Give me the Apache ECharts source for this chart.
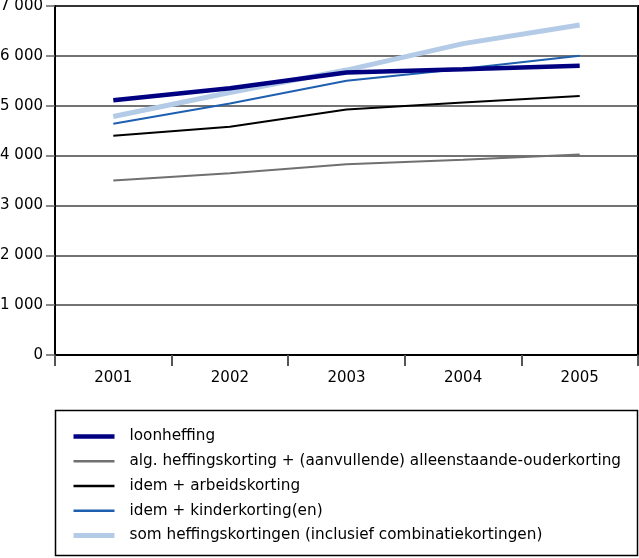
<!DOCTYPE html>
<html><head><meta charset="utf-8">
<script src="https://cdn.jsdelivr.net/npm/echarts@6/dist/echarts.min.js"></script>
<style>html,body{margin:0;padding:0;background:#fff}#c{width:639px;height:558px}</style>
</head><body><div id="c"></div>
<script>
const years = ['2001','2002','2003','2004','2005'];
const loonheffing = [5110, 5350, 5665, 5730, 5800];
const algKorting = [3500, 3645, 3825, 3915, 4020];
const arbeidskorting = [4400, 4580, 4925, 5065, 5195];
const kinderkorting = [4640, 5045, 5500, 5740, 6000];
const somKortingen = [4785, 5265, 5715, 6245, 6620];
const seriesNames = ['loonheffing','alg. heffingskorting + (aanvullende) alleenstaande-ouderkorting','idem + arbeidskorting','idem + kinderkorting(en)','som heffingskortingen (inclusief combinatiekortingen)'];
const yTicks = [0,1000,2000,3000,4000,5000,6000,7000];

const FONT = 'DejaVu Sans';
const chart = echarts.init(document.getElementById('c'), null, {renderer:'canvas'});
const styles = [
  {color:'#000080', width:4.5, lw:4.5, z:5},
  {color:'#707070', width:2, lw:2.5, z:2},
  {color:'#000000', width:2, lw:2.5, z:3},
  {color:'#1f5fb0', width:2, lw:2.5, z:4},
  {color:'#b3cbe6', width:5, lw:5, z:1}
];
const data = [loonheffing, algKorting, arbeidskorting, kinderkorting, somKortingen];
chart.setOption({
  animation:false,
  textStyle:{fontFamily:FONT},
  grid:{left:55, right:1, top:6, bottom:203, show:true, borderColor:'#000', borderWidth:2, backgroundColor:'transparent', outerBoundsMode:'none', containLabel:false},
  xAxis:{type:'category', data:years, boundaryGap:true,
    axisLine:{lineStyle:{color:'#000', width:2}},
    axisTick:{show:true, length:11, lineStyle:{color:'#555', width:2}},
    axisLabel:{color:'#000', fontSize:15, margin:16, fontFamily:FONT}},
  yAxis:{type:'value', min:0, max:7000, interval:1000,
    axisLine:{show:true, lineStyle:{color:'#000', width:2}},
    axisTick:{show:true, length:9, lineStyle:{color:'#666', width:1.5}},
    splitLine:{lineStyle:{color:'#444', width:1.5}},
    axisLabel:{color:'#000', fontSize:15, margin:12, fontFamily:FONT,
      formatter:v=>String(v).replace(/\B(?=(\d{3})+(?!\d))/g,' ')}},
  legend:{orient:'vertical', left:71, top:429, padding:0, itemWidth:41, itemHeight:14, itemGap:9.75,
    itemStyle:{opacity:0},
    textStyle:{fontSize:15.25, lineHeight:14, color:'#000', fontFamily:FONT, padding:[0,0,0,10]},
    data:seriesNames.map((n,i)=>({name:n, itemStyle:{opacity:0}, lineStyle:{color:styles[i].color, width:styles[i].lw}}))},
  graphic:[{type:'rect', shape:{x:55.5, y:410.5, width:582, height:145}, style:{fill:'none', stroke:'#000', lineWidth:1.5}}],
  series:data.map((d,i)=>({name:seriesNames[i], type:'line', data:d, symbol:'none', z:styles[i].z,
    lineStyle:{color:styles[i].color, width:styles[i].width}, itemStyle:{color:styles[i].color}}))
});
</script></body></html>
